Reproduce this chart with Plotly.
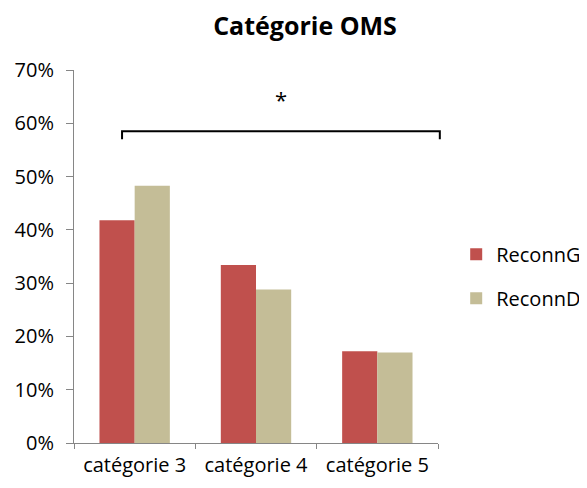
import plotly.graph_objects as go

categories = ["catégorie 3", "catégorie 4", "catégorie 5"]
reconn_g = [0.418, 0.334, 0.172]
reconn_d = [0.483, 0.288, 0.170]
y_ticks = [0, 0.1, 0.2, 0.3, 0.4, 0.5, 0.6, 0.7]
y_tick_labels = ["0%", "10%", "20%", "30%", "40%", "50%", "60%", "70%"]
y_max = 0.7
bracket_y = 0.585
bracket_tip = 0.57
star_y = 0.677

FONT = "Open Sans"

fig = go.Figure()
fig.add_trace(go.Bar(x=categories, y=reconn_g, name="ReconnG",
                     marker=dict(color="#C0504D", line=dict(width=0)),
                     legendgroup="g"))
fig.add_trace(go.Bar(x=categories, y=reconn_d, name="ReconnD",
                     marker=dict(color="#C4BD97", line=dict(width=0)),
                     legendgroup="d"))

# significance bracket (paper coords so it is not clipped at the plot edge)
by = bracket_y / y_max
bt = bracket_tip / y_max
fig.add_shape(type="path", xref="paper", yref="paper",
              path=f"M 0.132 {bt} L 0.132 {by} L 1.005 {by} L 1.005 {bt}",
              line=dict(color="black", width=2))
fig.add_annotation(x=0.5675, y=star_y / y_max, xref="paper", yref="paper", text="*",
                   showarrow=False, font=dict(size=22, color="black", family=FONT))

fig.update_layout(
    width=579, height=480,
    margin=dict(l=66, r=149, t=62, b=45, autoexpand=False),
    paper_bgcolor="white", plot_bgcolor="white",
    barmode="group", bargap=0.42, bargroupgap=0,
    title=dict(text="<b>Catégorie OMS</b>", x=0.513, xanchor="center", xref="container",
               y=0.962, yanchor="middle", yref="container",
               font=dict(size=25, color="black", family=FONT)),
    font=dict(family=FONT, size=20, color="black"),
    legend=dict(x=1.05, xanchor="left", y=0.447, yanchor="middle",
                font=dict(size=20, color="black", family=FONT),
                tracegroupgap=15, itemwidth=30),
    xaxis=dict(type="category", range=[-0.5, 2.5], showline=True, linecolor="#868686",
               linewidth=1, ticks="outside", tickson="boundaries", ticklen=5,
               tickcolor="#868686", showgrid=False, ticklabelstandoff=4,
               tickfont=dict(size=20, color="black", family=FONT)),
    yaxis=dict(range=[0, y_max], tickvals=y_ticks, ticktext=y_tick_labels,
               showline=True, linecolor="#868686", linewidth=1, ticks="outside",
               ticklen=7, tickcolor="#868686", showgrid=False, zeroline=False,
               ticklabelstandoff=8,
               tickfont=dict(size=20, color="black", family=FONT)),
)

fig.write_html("out.html")
